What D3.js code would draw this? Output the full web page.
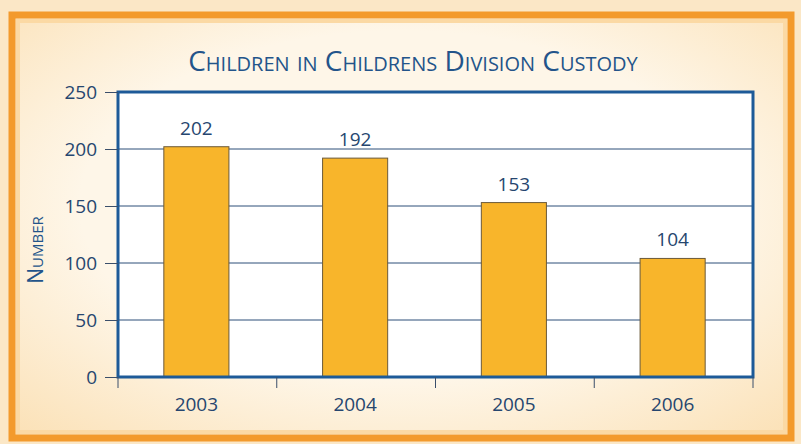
<!DOCTYPE html>
<html><head><meta charset="utf-8">
<script src="https://cdn.jsdelivr.net/npm/d3@7"></script>
<style>body{margin:0;background:#fbe6c4;}svg{display:block;}</style>
</head><body>
<svg id="c" width="801" height="444"></svg>
<script>
const years = ["2003","2004","2005","2006"];
const values = [202,192,153,104];
const yTicks = [0,50,100,150,200,250];
const titleText = "Children in Childrens Division Custody";
const yLabel = "Number";

const svg = d3.select("#c");
const W=801,H=444;
const defs = svg.append("defs");
const g1 = defs.append("radialGradient").attr("id","bg").attr("cx","50%").attr("cy","45%").attr("r","75%");
g1.append("stop").attr("offset","0.55").attr("stop-color","#fef6e8");
g1.append("stop").attr("offset","1").attr("stop-color","#fbe0b4");
svg.append("rect").attr("width",W).attr("height",H).attr("fill","#fbe7c6");
svg.append("rect").attr("x",12).attr("y",15).attr("width",779).attr("height",423).attr("fill","url(#bg)")
  .attr("stroke","#f39a2c").attr("stroke-width",7);
svg.append("rect").attr("x",18).attr("y",21).attr("width",767).attr("height",411).attr("fill","none")
  .attr("stroke","#fbd9a4").attr("stroke-width",4);

const m={l:118,r:753,t:92,b:377};
const x = d3.scaleBand().domain(years).range([m.l,m.r]).paddingInner(0.59).paddingOuter(0.295);
const y = d3.scaleLinear().domain([0,250]).range([m.b,m.t]);
const ink="#26466f", blue="#1d5a98";

svg.append("rect").attr("x",m.l).attr("y",m.t).attr("width",m.r-m.l).attr("height",m.b-m.t).attr("fill","#fff");
// gridlines
svg.append("g").selectAll("line").data(yTicks.filter(d=>d>0&&d<250)).join("line")
  .attr("x1",m.l).attr("x2",m.r).attr("y1",d=>y(d)).attr("y2",d=>y(d)).attr("stroke","#2d4f78").attr("stroke-width",1);
// bars
svg.append("g").selectAll("rect").data(values).join("rect")
  .attr("x",(d,i)=>x(years[i])-1).attr("width",x.bandwidth())
  .attr("y",d=>y(d)).attr("height",d=>y(0)-y(d))
  .attr("fill","#f8b52b").attr("stroke","#6b5a3a").attr("stroke-width",1);
// value labels
svg.append("g").selectAll("text").data(values).join("text")
  .attr("x",(d,i)=>x(years[i])+x.bandwidth()/2-1).attr("y",d=>y(d)-12)
  .attr("text-anchor","middle").attr("fill",ink)
  .style("font","19px 'Open Sans', sans-serif").text(d=>d);
// frame
svg.append("rect").attr("x",m.l).attr("y",m.t).attr("width",m.r-m.l).attr("height",m.b-m.t)
  .attr("fill","none").attr("stroke",blue).attr("stroke-width",3);
// y axis
const ya = svg.append("g").attr("transform",`translate(${m.l},0)`)
  .call(d3.axisLeft(y).tickValues(yTicks).tickSize(13).tickPadding(8).tickFormat(d3.format("d")));
ya.select(".domain").remove();
ya.selectAll("line").attr("stroke","#3a4e6a");
ya.selectAll("text").attr("fill",ink).style("font","19px 'Open Sans', sans-serif");
// x axis ticks at band boundaries
const bnd = years.map(d=>x(d)-x.step()*x.paddingInner()/2).concat([m.r]);
bnd[0]=m.l;
svg.append("g").selectAll("line").data(bnd).join("line")
  .attr("x1",d=>d).attr("x2",d=>d).attr("y1",m.b).attr("y2",m.b+11).attr("stroke","#3a4e6a");
svg.append("g").selectAll("text").data(years).join("text")
  .attr("x",d=>x(d)+x.bandwidth()/2-1).attr("y",m.b+34).attr("text-anchor","middle")
  .attr("fill",ink).style("font","19px 'Open Sans', sans-serif").text(d=>d);
// title
svg.append("text").attr("x",413).attr("y",71).attr("text-anchor","middle").attr("fill","#23548a")
  .style("font","28px 'Open Sans', sans-serif").style("font-variant","small-caps").text(titleText);
svg.append("text").attr("transform","translate(43,250) rotate(-90)").attr("text-anchor","middle")
  .attr("fill","#23548a").style("font","21px 'Open Sans', sans-serif").style("font-variant","small-caps").text(yLabel);
</script>
</body></html>
